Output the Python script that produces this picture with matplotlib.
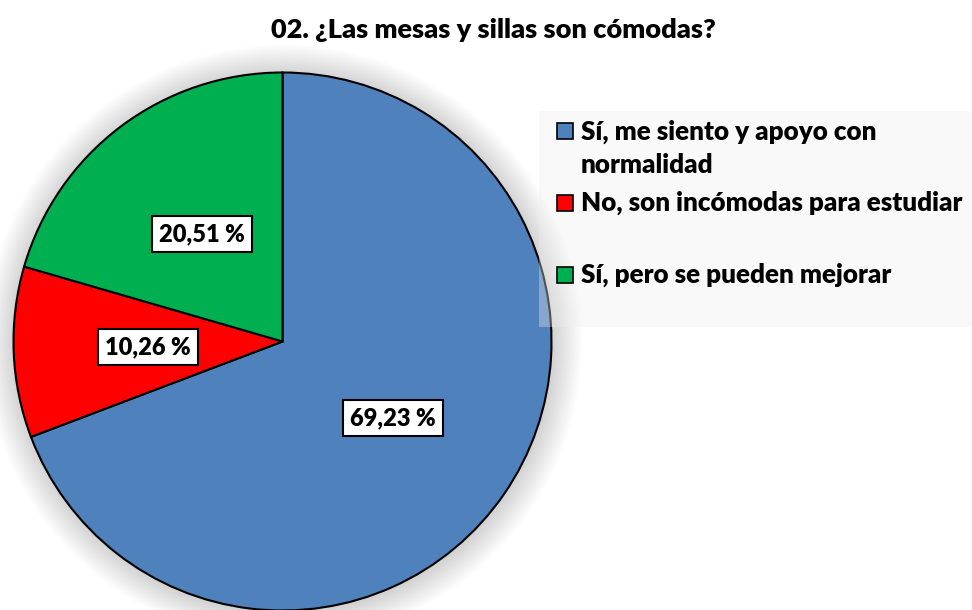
import matplotlib
matplotlib.use("Agg")
import matplotlib.pyplot as plt
from matplotlib.patches import Circle, Rectangle

title = "02. ¿Las mesas y sillas son cómodas?"
categories = ["Sí, me siento y apoyo con normalidad",
              "No, son incómodas para estudiar",
              "Sí, pero se pueden mejorar"]
legend_labels = ["Sí, me siento y apoyo con\nnormalidad",
                 "No, son incómodas para estudiar",
                 "Sí, pero se pueden mejorar"]
values = [69.23, 10.26, 20.51]
value_labels = ["69,23 %", "10,26 %", "20,51 %"]
colors = ["#4f81bd", "#ff0000", "#00b050"]

W, H = 972, 610
fig = plt.figure(figsize=(W / 100, H / 100), dpi=100)
fig.patch.set_facecolor("white")
FONT = ["Lato", "DejaVu Sans"]
WEIGHT = "heavy"

cx, cy, R = 282.5, 341.5, 269
ax = fig.add_axes([(cx - R) / W, (H - cy - R) / H, 2 * R / W, 2 * R / H])
ax.set_xlim(-1, 1)
ax.set_ylim(-1, 1)
ax.axis("off")

# soft glow/shadow
n = 22
for i in range(n):
    r = 1.0 + 0.11 * (i + 1) / n
    ax.add_patch(Circle((0.004, -0.006), r, facecolor="black", edgecolor="none",
                        alpha=0.009, zorder=0, clip_on=False))

wedges, texts = ax.pie(values, colors=colors, startangle=90, counterclock=False,
                       radius=1.0, labels=value_labels, labeldistance=0.5,
                       wedgeprops=dict(edgecolor="black", linewidth=1.5),
                       textprops=dict(fontsize=17, fontweight=WEIGHT, family=FONT,
                                      color="black"),
                       frame=False)
for w in wedges:
    w.set_clip_on(False)
    w.set_zorder(2)
for t in texts:
    t.set_ha("center")
    t.set_va("center")
    t.set_zorder(3)
    t.set_bbox(dict(facecolor="white", edgecolor="black", linewidth=1.5,
                    boxstyle="square,pad=0.3"))
ax.set_xlim(-1, 1)
ax.set_ylim(-1, 1)
ax.set_aspect("auto")

# title
fig.text(493 / W, 1 - 30 / H, title, ha="center", va="center",
         fontsize=19.5, fontweight=WEIGHT, family=FONT, color="black")

# legend background
ov = fig.add_axes([0, 0, 1, 1], facecolor="none")
ov.set_xlim(0, W)
ov.set_ylim(H, 0)
ov.axis("off")
ov.add_patch(Rectangle((539, 111), W - 539, 216, facecolor="#eeeeee",
                       edgecolor="none", alpha=0.35, zorder=1))

baselines = [139, 211, 283]
line_gap = 34
for lab, col, yb in zip(legend_labels, colors, baselines):
    ov.add_patch(Rectangle((557, yb - 16), 16, 16, facecolor=col,
                           edgecolor="black", linewidth=1.2, zorder=2))
    ov.text(581, yb + lab.count("\n") * line_gap, lab, ha="left", va="baseline",
            fontsize=18.7, fontweight=WEIGHT, family=FONT, color="black",
            linespacing=1.45, zorder=3)

fig.savefig("out.png", dpi=100)
